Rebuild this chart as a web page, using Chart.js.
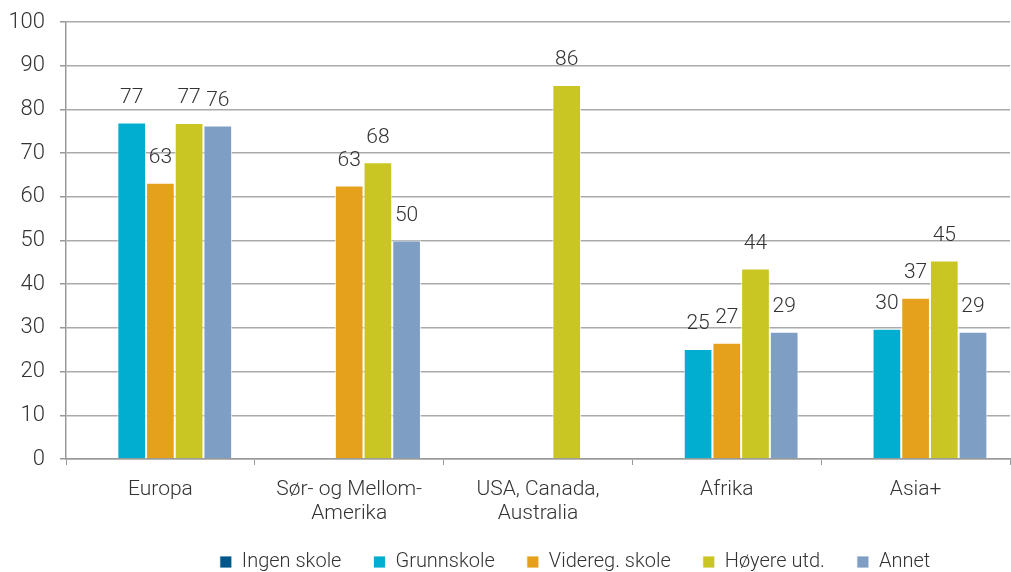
<!DOCTYPE html>
<html>
<head>
<meta charset="utf-8">
<script src="https://cdn.jsdelivr.net/npm/chart.js@4"></script>
<style>
  html, body { margin: 0; padding: 0; background: #fff; }
  #wrap { width: 1011px; height: 572px; }
</style>
</head>
<body>
<div id="wrap"><canvas id="chart1"></canvas></div>
<script>
var categories = ['Europa', ['Sør- og Mellom-', 'Amerika'], ['USA, Canada,', 'Australia'], 'Afrika', 'Asia+'];
var ingenSkole = [null, null, null, null, null];
var grunnskole = [77.0, null, null, 25.2, 29.8];
var videreg = [63.2, 62.6, null, 26.6, 36.9];
var hoyere = [76.9, 67.9, 85.6, 43.6, 45.4];
var annet = [76.3, 50.0, null, 29.1, 29.1];
var yTicks = [0, 10, 20, 30, 40, 50, 60, 70, 80, 90, 100];

var textColor = '#333';
var font = 'Roboto, "Open Sans", sans-serif';

// draws the rounded value above each bar
var valueLabels = {
    id: 'valueLabels',
    afterDatasetsDraw: function(chart) {
        var ctx = chart.ctx;
        ctx.save();
        ctx.font = '300 21px ' + font;
        ctx.fillStyle = textColor;
        ctx.textAlign = 'center';
        ctx.textBaseline = 'middle';
        chart.data.datasets.forEach(function(ds, i) {
            if (ds.label === 'Ingen skole') return;
            var meta = chart.getDatasetMeta(i);
            meta.data.forEach(function(bar, j) {
                var v = ds.data[j];
                if (v === null || v === undefined) return;
                ctx.fillText(Math.round(v), bar.x, bar.y - 25);
            });
        });
        ctx.restore();
    }
};

// the legend in the original sits a bit right of centre
var legendShift = {
    id: 'legendShift',
    afterLayout: function(chart) {
        var lg = chart.legend;
        if (lg) {
            lg.left += 70;
            lg.right += 70;
            lg.top -= 6;
        }
    }
};

var ct1 = document.getElementById('chart1').getContext('2d');
var chart1 = new Chart(ct1, {
    type: 'bar',
    data: {
        labels: categories,
        datasets: [
            { label: 'Ingen skole', data: ingenSkole, backgroundColor: '#00578a' },
            { label: 'Grunnskole', data: grunnskole, backgroundColor: '#02aed0' },
            { label: 'Videreg. skole', data: videreg, backgroundColor: '#e5a11c' },
            { label: 'Høyere utd.', data: hoyere, backgroundColor: '#c9c624' },
            { label: 'Annet', data: annet, backgroundColor: '#7f9ec4' }
        ]
    },
    options: {
        responsive: true,
        maintainAspectRatio: false,
        animation: false,
        layout: { padding: { left: 0, right: 1, top: 1, bottom: 0 } },
        datasets: {
            bar: {
                categoryPercentage: 0.76,
                barPercentage: 1.0,
                borderWidth: 1,
                borderColor: 'rgba(255,255,255,0.8)'
            }
        },
        plugins: {
            legend: {
                position: 'bottom',
                maxHeight: 46,
                labels: {
                    boxWidth: 12,
                    boxHeight: 12,
                    padding: 32,
                    color: textColor,
                    font: { family: font, size: 20, weight: '300' }
                }
            },
            tooltip: { enabled: false }
        },
        scales: {
            x: {
                afterFit: function(axis) { axis.height = 67; },
                grid: {
                    offset: true,
                    drawOnChartArea: false,
                    drawTicks: true,
                    tickLength: 6,
                    color: '#999'
                },
                border: { color: '#999', width: 1.5 },
                ticks: {
                    color: textColor,
                    padding: 13,
                    maxRotation: 0,
                    font: { family: font, size: 21, weight: '300', lineHeight: 1.15 }
                }
            },
            y: {
                min: 0,
                max: 100,
                afterFit: function(axis) {
                    axis.width = 66;
                    axis.paddingTop = 22;
                },
                afterBuildTicks: function(axis) {
                    axis.ticks = yTicks.map(function(v) { return { value: v }; });
                },
                grid: {
                    color: '#aaa',
                    lineWidth: 1.5,
                    borderDash: [2, 4],
                    tickBorderDash: [],
                    tickColor: '#999',
                    tickLength: 6,
                    drawTicks: true
                },
                border: { color: '#999', width: 1.5 },
                ticks: {
                    color: textColor,
                    padding: 15,
                    font: { family: font, size: 22, weight: '300' }
                }
            }
        }
    },
    plugins: [valueLabels, legendShift]
});
</script>
</body>
</html>
